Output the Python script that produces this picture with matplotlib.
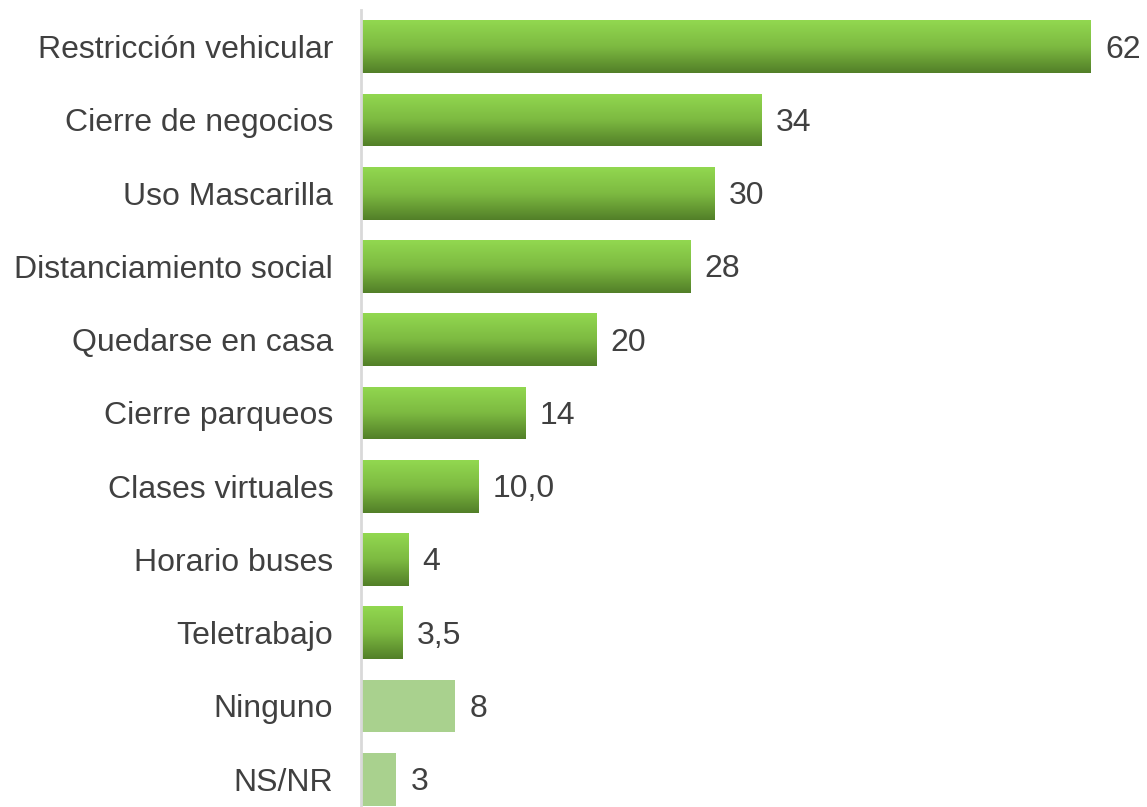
import numpy as np
import matplotlib
matplotlib.use("Agg")
import matplotlib.pyplot as plt
from matplotlib.colors import LinearSegmentedColormap

categories = ["Restricción vehicular", "Cierre de negocios", "Uso Mascarilla",
              "Distanciamiento social", "Quedarse en casa", "Cierre parqueos",
              "Clases virtuales", "Horario buses", "Teletrabajo", "Ninguno", "NS/NR"]
values = [62, 34, 30, 28, 20, 14, 10.0, 4, 3.5, 8, 3]
labels = ["62", "34", "30", "28", "20", "14", "10,0", "4", "3,5", "8", "3"]
gradient = [True] * 9 + [False] * 2

text_c = "#404040"
green_top = "#92D850"
green_bot = "#527F28"
flat = "#A9D18E"
cmap = LinearSegmentedColormap.from_list("g", [green_top, "#7DBA41", green_bot])

plt.rcParams["font.family"] = ["Liberation Sans", "DejaVu Sans"]

fig = plt.figure(figsize=(11.47, 8.07), dpi=100, facecolor="white")
ax = fig.add_axes([361 / 1147, 0, 1 - 361 / 1147, 1 - 10 / 807])

ypos = np.arange(len(categories))
h = 0.72
bars = ax.barh(ypos, values, height=h, color=[flat if not g else "none" for g in gradient],
               edgecolor="none", zorder=2)

grad = np.linspace(0, 1, 256).reshape(-1, 1)
for bar, g in zip(bars, gradient):
    if not g:
        continue
    x0, y0 = bar.get_x(), bar.get_y()
    w, hh = bar.get_width(), bar.get_height()
    im = ax.imshow(grad, cmap=cmap, aspect="auto", extent=(x0, x0 + w, y0 + hh, y0),
                   zorder=2, interpolation="bilinear")
    im.set_clip_path(bar)

for y, v, lab in zip(ypos, values, labels):
    ax.text(v + 1.2, y + 0.04, lab, va="center", ha="left", fontsize=23, color=text_c)

ax.set_xlim(0, (1147 - 361) / (730 / 62))
ax.set_ylim(10.38, -0.5)
ax.set_yticks(ypos)
ax.set_yticklabels(categories, fontsize=23, color=text_c)
ax.tick_params(axis="y", length=0, pad=20)
ax.set_xticks([])
for s in ["top", "right", "bottom"]:
    ax.spines[s].set_visible(False)
ax.spines["left"].set_color("#D9D9D9")
ax.spines["left"].set_linewidth(2)

fig.savefig("out.png", dpi=100, facecolor="white")
